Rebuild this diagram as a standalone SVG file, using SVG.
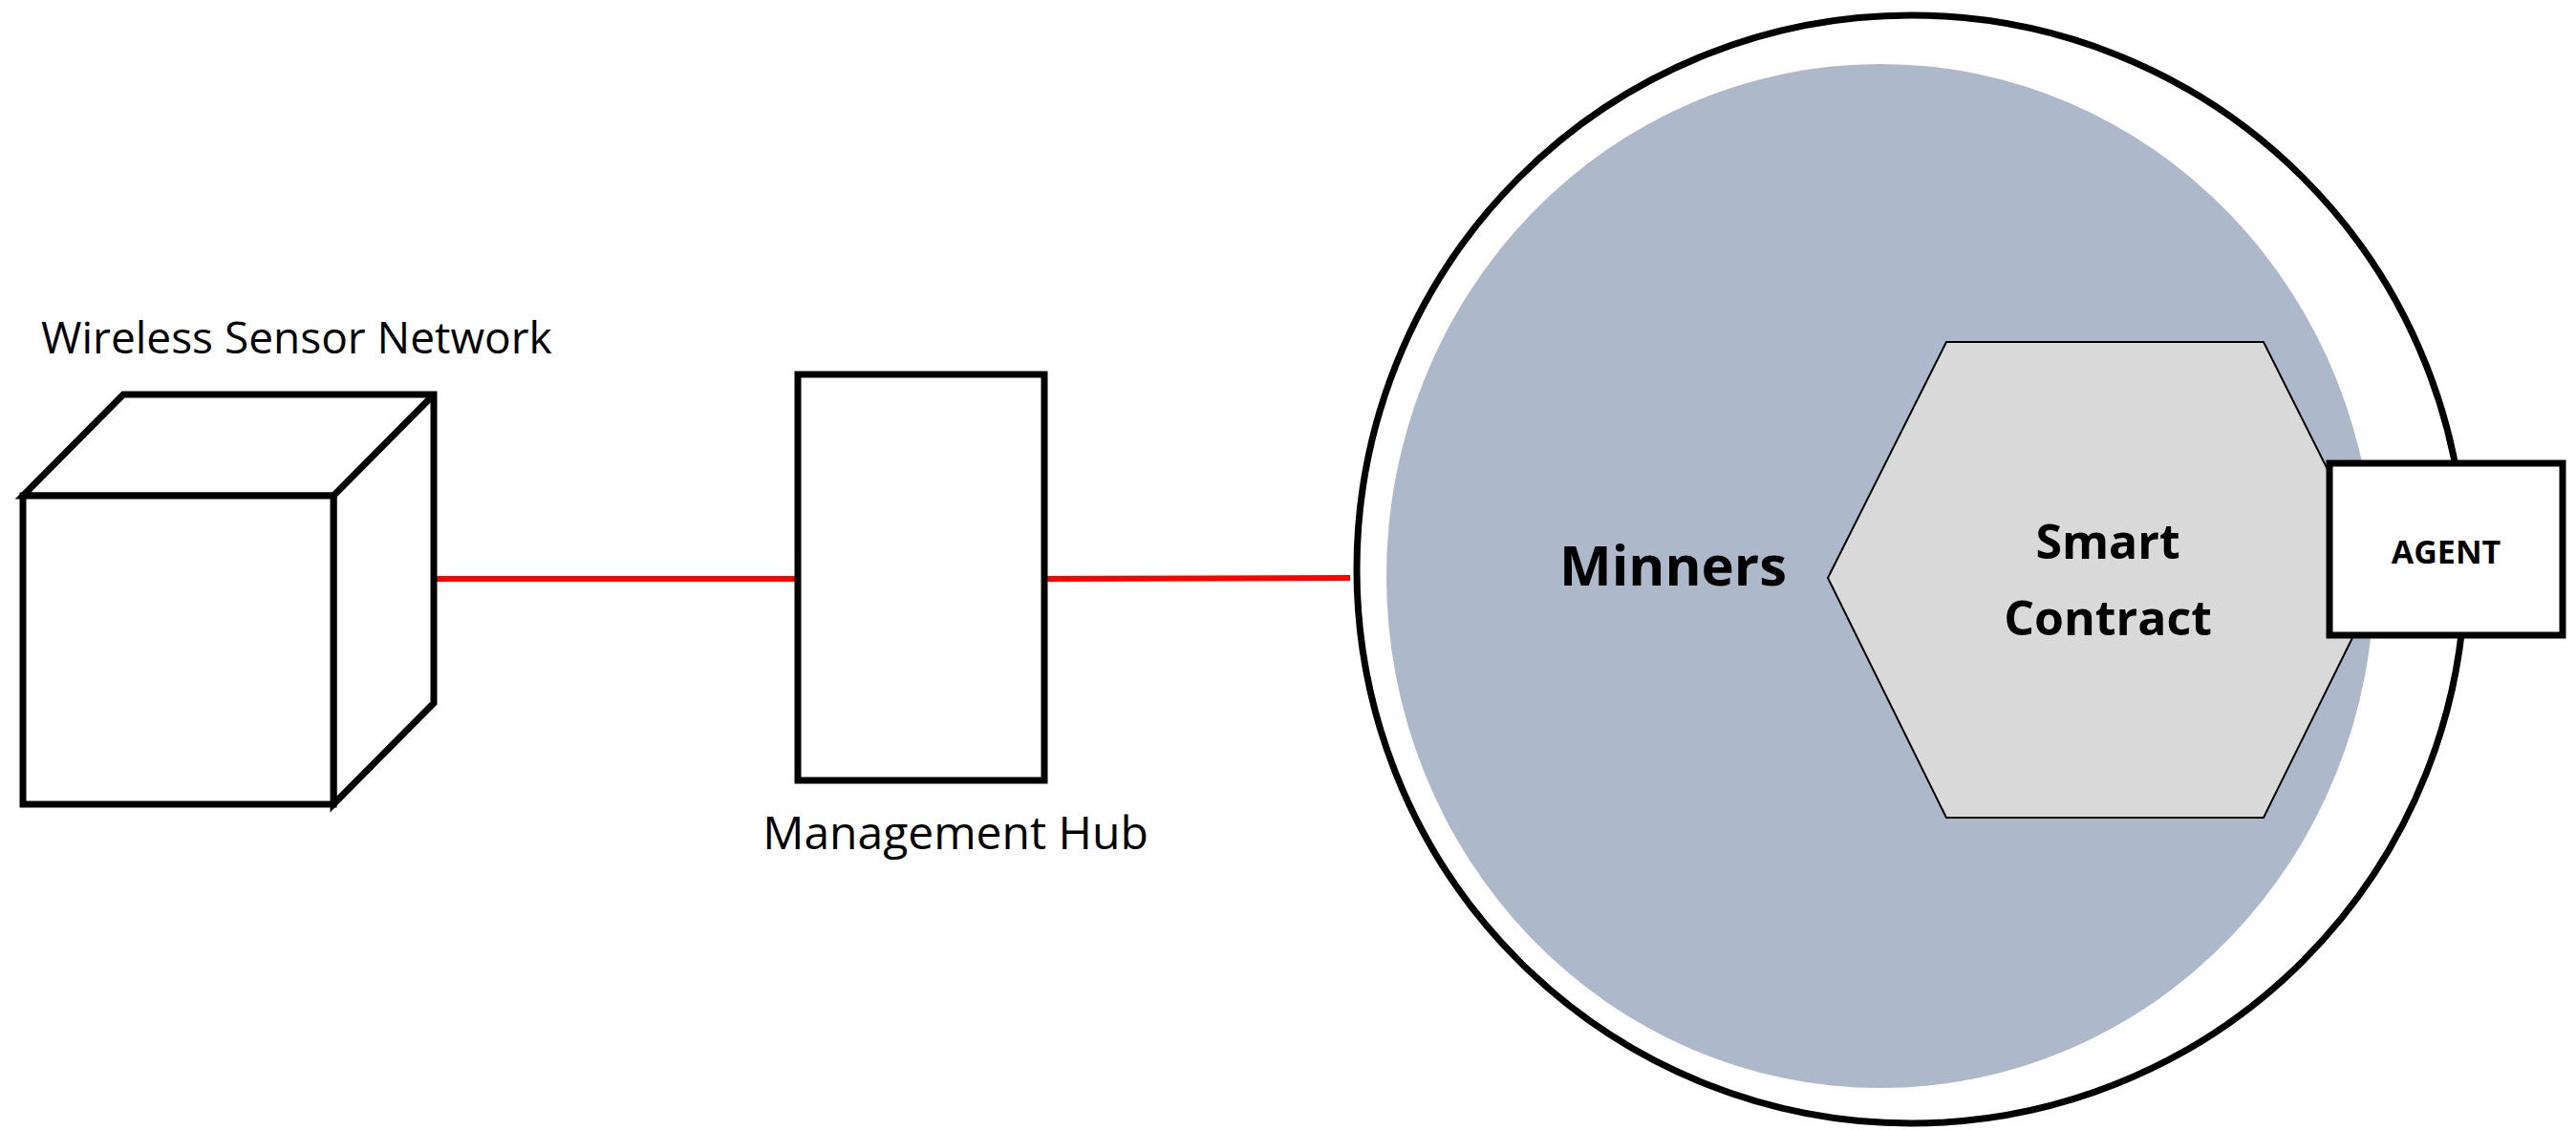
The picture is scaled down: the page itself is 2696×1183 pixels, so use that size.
<svg xmlns="http://www.w3.org/2000/svg" width="2696" height="1183" viewBox="0 0 2696 1183">
<style>
.o{fill:#fff;stroke:#000;stroke-width:7;stroke-linejoin:miter}
.t{font-family:"Open Sans","Liberation Sans",sans-serif;fill:#000}
.b{font-family:"Open Sans","Liberation Sans",sans-serif;font-weight:bold;fill:#000;text-anchor:middle}
.c{stroke:#f00;stroke-width:6;fill:none}
</style>
<rect width="2696" height="1183" fill="#fff"/>
<g id="connectors">
<line class="c" x1="454" y1="606" x2="835" y2="606"/>
<line class="c" x1="1093" y1="606" x2="1413" y2="605"/>
</g>
<g id="wsn">
<polygon class="o" points="24,519 129,413 454,413 454,736 349,842 349,519"/>
<line class="o" x1="349" y1="519" x2="454" y2="413"/>
<rect class="o" x="24" y="519" width="325" height="323"/>
<text class="t" x="43" y="370" font-size="46">Wireless Sensor Network</text>
</g>
<g id="hub">
<rect class="o" x="835" y="392" width="258" height="425"/>
<text class="t" x="1000" y="889" font-size="48" text-anchor="middle">Management Hub</text>
</g>
<g id="blockchain">
<circle class="o" cx="2000" cy="596" r="580"/>
<ellipse cx="1968" cy="603" rx="517" ry="536" fill="#ADB9CA"/>
<text class="b" x="1751" y="613" font-size="58">Minners</text>
</g>
<g id="contract">
<polygon points="1913,605 2037,358 2369,358 2493,605 2369,856 2037,856" fill="#D9D9D9" stroke="#000" stroke-width="2"/>
<text class="b" x="2206" y="585" font-size="50">Smart</text>
<text class="b" x="2206" y="665" font-size="50">Contract</text>
</g>
<g id="agent">
<rect class="o" x="2438" y="485" width="244" height="180"/>
<text class="b" x="2560" y="590" font-size="34">AGENT</text>
</g>
</svg>
